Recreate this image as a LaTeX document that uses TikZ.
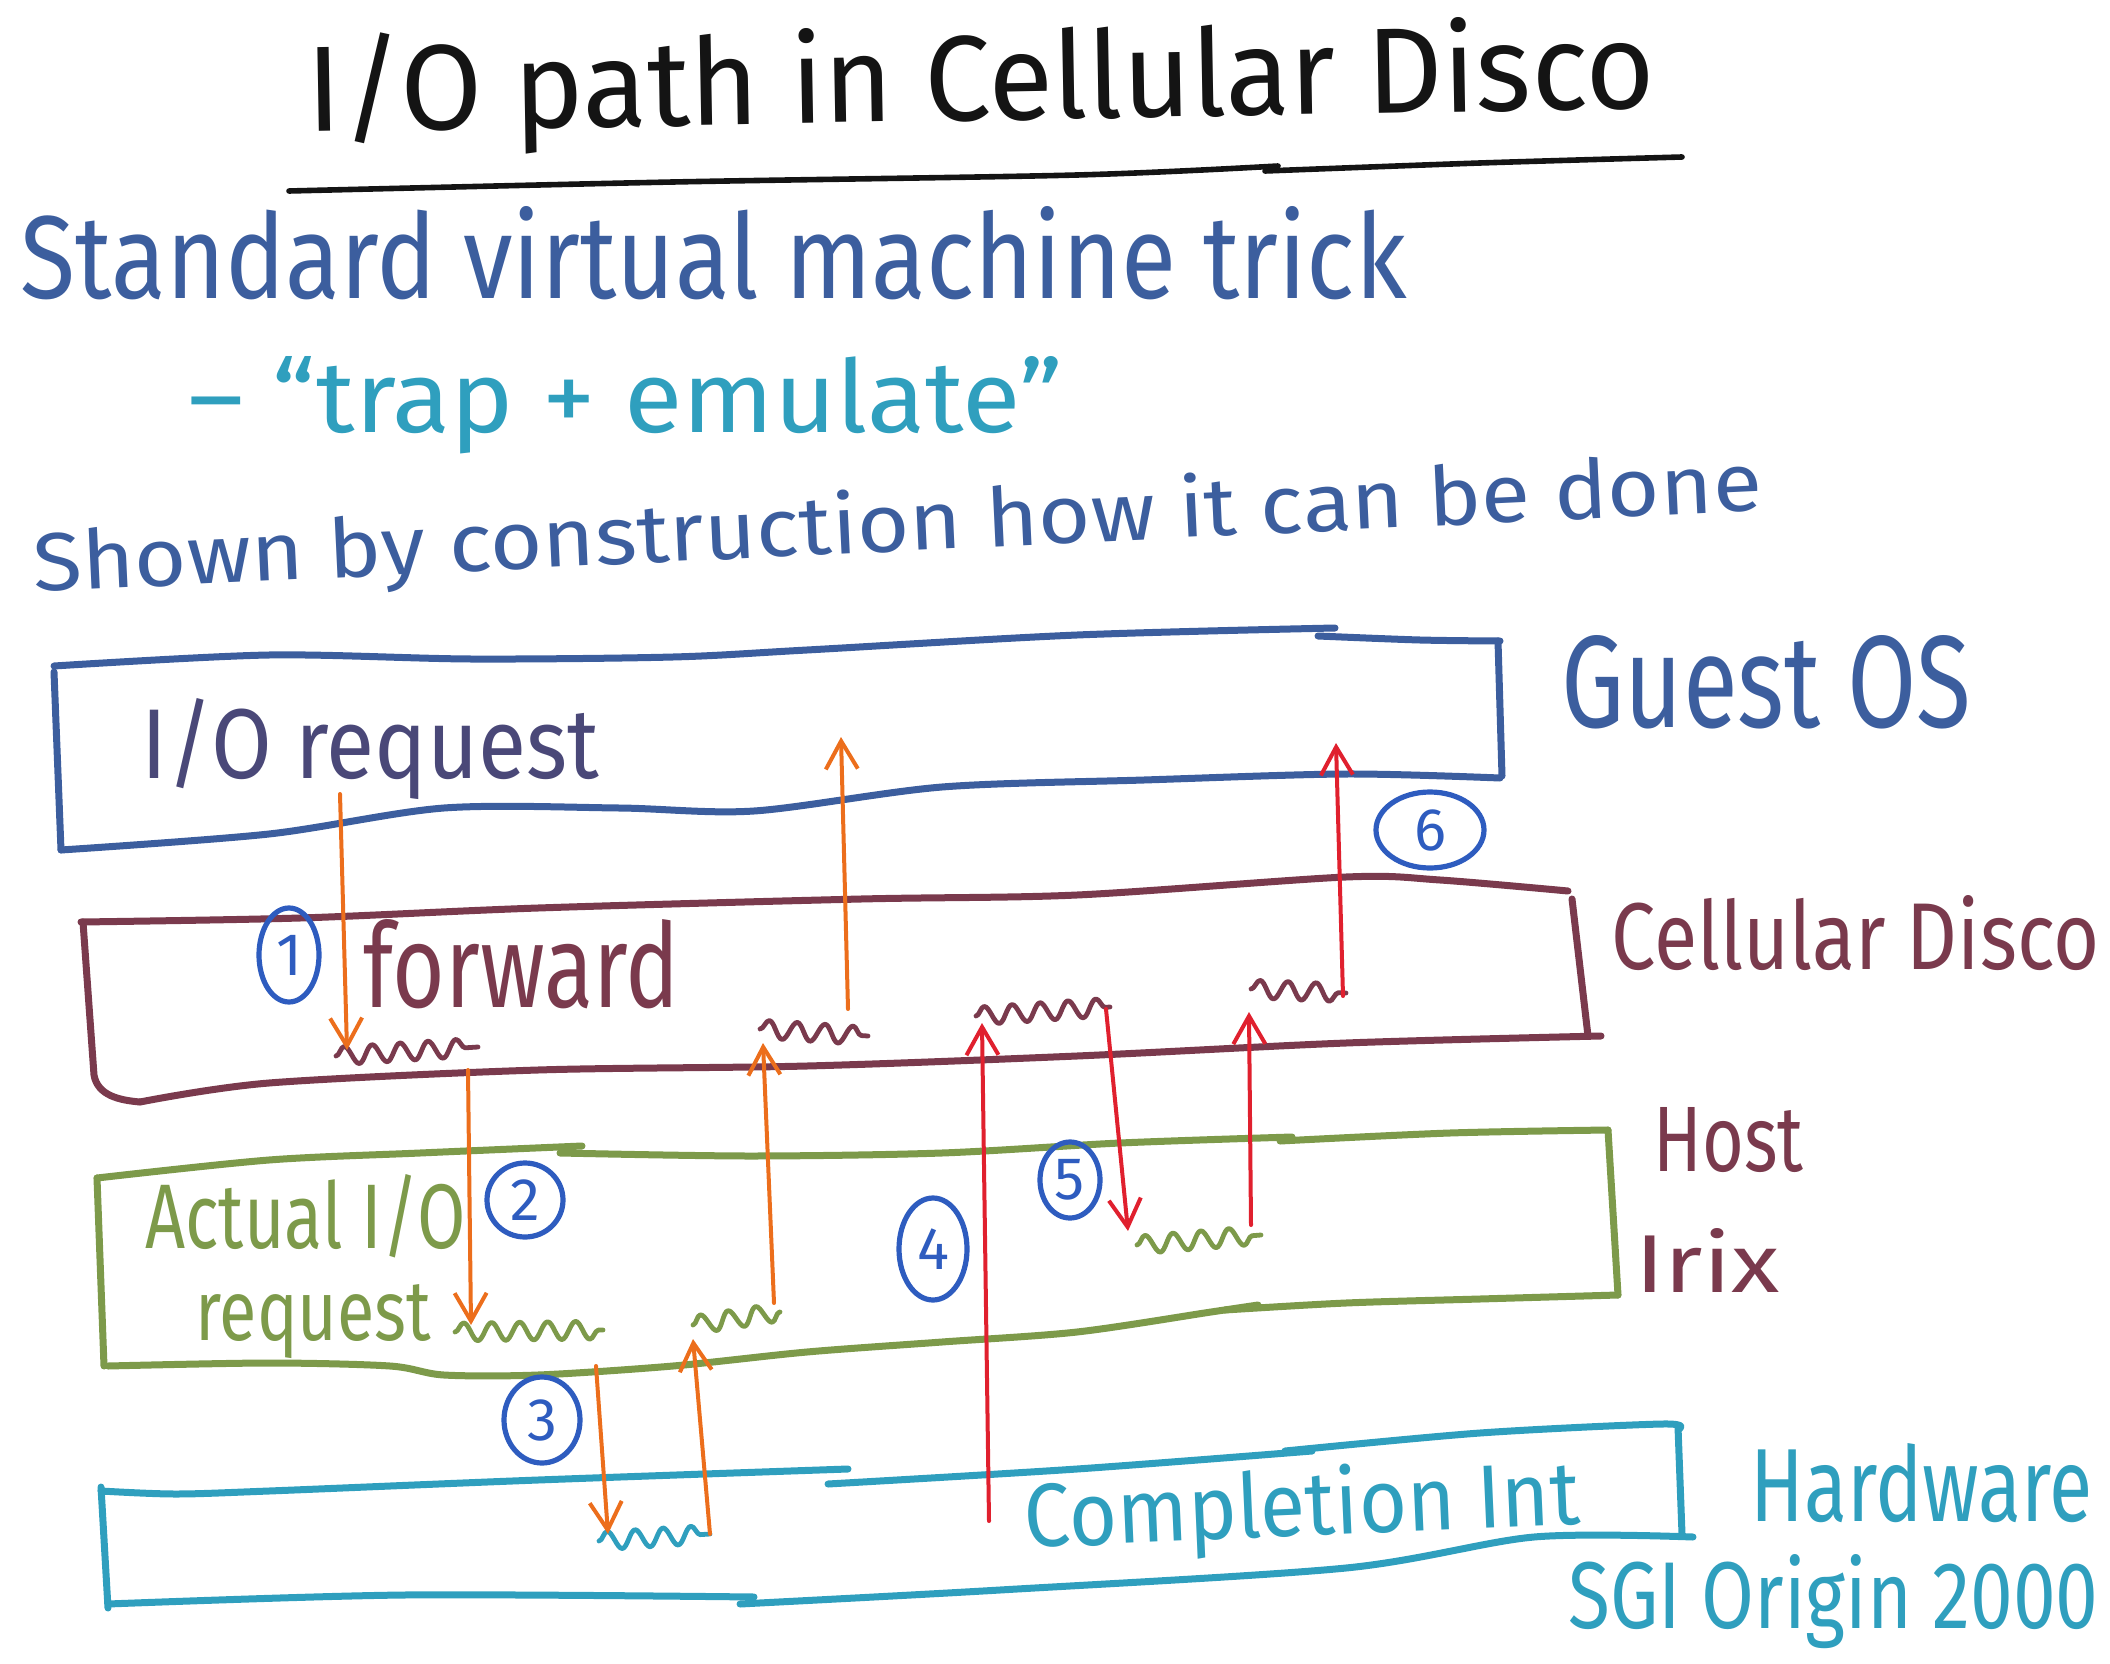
\documentclass[tikz,border=0pt]{standalone}
\usepackage{fontspec}
\setmainfont{Fira Sans}
\usepackage{graphicx}
\usetikzlibrary{arrows.meta,decorations.pathmorphing,shapes.geometric}
\definecolor{ink}{HTML}{141414}
\definecolor{gblue}{HTML}{3C5E9E}
\definecolor{tealc}{HTML}{2F9FBE}
\definecolor{maroon}{HTML}{7A3A4D}
\definecolor{olive}{HTML}{7D9A4A}
\definecolor{orangec}{HTML}{EC6E1C}
\definecolor{redc}{HTML}{E0202E}
\definecolor{numblue}{HTML}{2E5CBF}
\definecolor{iored}{HTML}{4A4878}
\newcommand{\hwtext}[3]{\resizebox{#1}{#2}{#3}}
\begin{document}
\begin{tikzpicture}[x=0.5pt,y=-0.5pt,line cap=round,line join=round,
  lbl/.style={anchor=base west,inner sep=0pt},
  boxline/.style={line width=3.5pt},
  arr/.style={line width=2pt,-{Straight Barb[length=14pt,width=16pt,line width=2pt]}},
  squig/.style={line width=2.4pt,decorate,decoration={snake,amplitude=4.5pt,segment length=14pt}},
  numc/.style={draw=numblue,line width=2.6pt,ellipse,inner sep=0pt,text=numblue,font=\fontsize{30pt}{30pt}\selectfont}]
\useasboundingbox (0,0) rectangle (2110,1664);

% title
\node[lbl,text=ink,rotate=1] (title) at (307,132) {\hwtext{674pt}{49pt}{I/O path in Cellular Disco}};
\draw[ink,line width=2.8pt] plot[smooth] coordinates {(289,191) (673,182) (1077,175) (1278,166)};
\draw[ink,line width=2.8pt] plot[smooth] coordinates {(1265,171) (1480,163) (1682,157)};

% header texts
\node[lbl,text=gblue] (std) at (20,299) {\hwtext{693pt}{46pt}{Standard virtual machine trick}};
\node[lbl,text=tealc] (trap) at (188,432) {\hwtext{437pt}{38pt}{– “trap + emulate”}};
\node[lbl,text=gblue,rotate=2.7] (shown) at (34,592) {\hwtext{865pt}{32pt}{Shown by construction how it can be done}};

% Guest OS box
\draw[gblue,boxline] plot[smooth] coordinates {(54,666) (269,655) (471,659) (673,657) (807,650) (1077,635) (1335,628)};
\draw[gblue,boxline] plot[smooth] coordinates {(1318,636) (1420,640) (1500,641)};
\draw[gblue,boxline] (1498,641) -- (1502,776);
\draw[gblue,boxline] (54,672) -- (61,850);
\draw[gblue,boxline] plot[smooth] coordinates {(61,850) (269,834) (444,808) (619,808) (754,811) (942,787) (1144,780) (1346,774) (1500,778)};
\node[lbl,text=iored] (ioreq) at (141,778) {\hwtext{229pt}{40pt}{I/O request}};
\node[lbl,text=gblue] (guest) at (1561,727) {\hwtext{205pt}{46pt}{Guest OS}};

% Cellular Disco box
\draw[maroon,boxline] plot[smooth] coordinates {(81,922) (300,918) (538,908) (861,899) (1077,895) (1346,877) (1440,880) (1568,891)};
\draw[maroon,boxline] (1572,899) -- (1588,1036);
\draw[maroon,boxline] (83,922) -- (94,1075) to[out=-80,in=175] (140,1102);
\draw[maroon,boxline] plot[smooth] coordinates {(140,1102) (269,1083) (538,1070) (807,1066) (1077,1056) (1346,1043) (1601,1036)};
\node[lbl,text=maroon] (forward) at (363,1007) {\hwtext{158pt}{44pt}{forward}};
\node[lbl,text=maroon] (cdisco) at (1611,969) {\hwtext{244pt}{37pt}{Cellular Disco}};

% Host Irix box
\draw[olive,boxline] plot[smooth] coordinates {(97,1178) (269,1160) (420,1153) (582,1146)};
\draw[olive,boxline] plot[smooth] coordinates {(560,1153) (750,1156) (942,1153) (1120,1143) (1292,1137)};
\draw[olive,boxline] plot[smooth] coordinates {(1280,1141) (1450,1133) (1608,1130)};
\draw[olive,boxline] (1608,1130) -- (1618,1295);
\draw[olive,boxline] (97,1178) -- (104,1366);
\draw[olive,boxline] plot[smooth] coordinates {(108,1366) (269,1363) (390,1366) (444,1375) (538,1375) (673,1366) (807,1352) (942,1342) (1077,1332) (1211,1312) (1258,1305)};
\draw[olive,boxline] plot[smooth] coordinates {(1225,1310) (1346,1303) (1480,1299) (1618,1295)};
\node[lbl,text=olive] (actual) at (145,1248) {\hwtext{160pt}{37pt}{Actual I/O}};
\node[lbl,text=olive] (request) at (195,1340) {\hwtext{118pt}{28pt}{request}};
\node[lbl,text=maroon] (host) at (1653,1171) {\hwtext{75pt}{32pt}{Host}};
\node[lbl,text=maroon] (irix) at (1635,1292) {\hwtext{72pt}{32pt}{Irix}};

% Hardware box
\draw[tealc,boxline] plot[smooth] coordinates {(101,1491) (175,1494) (269,1491) (538,1480) (848,1469)};
\draw[tealc,boxline] plot[smooth] coordinates {(828,1484) (1077,1469) (1312,1451)};
\draw[tealc,boxline] plot[smooth] coordinates {(1285,1451) (1480,1433) (1662,1424) (1679,1429)};
\draw[tealc,boxline] (1678,1427) -- (1682,1534);
\draw[tealc,boxline] (101,1487) -- (108,1608);
\draw[tealc,boxline] plot[smooth] coordinates {(108,1604) (404,1595) (754,1597)};
\draw[tealc,boxline] plot[smooth] coordinates {(740,1604) (1000,1590) (1346,1568) (1534,1537) (1693,1537)};
\node[lbl,text=tealc,rotate=2.5] (compl) at (1025,1548) {\hwtext{278pt}{35pt}{Completion Int}};
\node[lbl,text=tealc] (hw) at (1750,1521) {\hwtext{171pt}{39pt}{Hardware}};
\node[lbl,text=tealc] (sgi) at (1568,1628) {\hwtext{265pt}{37pt}{SGI Origin 2000}};

% step circles
\node[numc,minimum width=30pt,minimum height=47pt] (c1) at (289,955) {1};
\node[numc,minimum width=38pt,minimum height=37pt] (c2) at (525,1200) {2};
\node[numc,minimum width=38pt,minimum height=43pt] (c3) at (542,1420) {3};
\node[numc,minimum width=34pt,minimum height=51pt] (c4) at (933,1249) {4};
\node[numc,minimum width=30pt,minimum height=38pt] (c5) at (1070,1180) {5};
\node[numc,minimum width=54pt,minimum height=38pt] (c6) at (1430,830) {6};

% coordinates
\coordinate (a1s) at (340,794); \coordinate (a1e) at (347,1050);
\coordinate (s1a) at (336,1056); \coordinate (s1b) at (478,1047);
\coordinate (a2s) at (468,1070); \coordinate (a2e) at (471,1325);
\coordinate (s2a) at (455,1332); \coordinate (s2b) at (603,1330);
\coordinate (a3s) at (596,1366); \coordinate (a3e) at (608,1534);
\coordinate (s3a) at (599,1541); \coordinate (s3b) at (710,1534);
\coordinate (a4e) at (693,1339);
\coordinate (s4a) at (693,1325); \coordinate (s4b) at (780,1312);
\coordinate (a5s) at (774,1303); \coordinate (a5e) at (763,1043);
\coordinate (s5a) at (760,1029); \coordinate (s5b) at (868,1036);
\coordinate (a6s) at (848,1009); \coordinate (a6e) at (841,737);
\coordinate (r1s) at (989,1521); \coordinate (r1e) at (982,1023);
\coordinate (s6a) at (976,1016); \coordinate (s6b) at (1110,1007);
\coordinate (r2s) at (1106,1009); \coordinate (r2e) at (1128,1231);
\coordinate (s7a) at (1137,1245); \coordinate (s7b) at (1261,1235);
\coordinate (r3s) at (1251,1225); \coordinate (r3e) at (1249,1012);
\coordinate (s8a) at (1251,989); \coordinate (s8b) at (1346,993);
\coordinate (r4s) at (1343,996); \coordinate (r4e) at (1336,743);

% squiggles
\draw[squig,maroon] (s1a) -- (s1b);
\draw[squig,olive] (s2a) -- (s2b);
\draw[squig,tealc] (s3a) -- (s3b);
\draw[squig,olive] (s4a) -- (s4b);
\draw[squig,maroon] (s5a) -- (s5b);
\draw[squig,maroon] (s6a) -- (s6b);
\draw[squig,olive] (s7a) -- (s7b);
\draw[squig,maroon] (s8a) -- (s8b);

% arrows
\draw[arr,orangec] (a1s) -- (a1e);
\draw[arr,orangec] (a2s) -- (a2e);
\draw[arr,orangec] (a3s) -- (a3e);
\draw[arr,orangec] (s3b) -- (a4e);
\draw[arr,orangec] (a5s) -- (a5e);
\draw[arr,orangec] (a6s) -- (a6e);
\draw[arr,redc] (r1s) -- (r1e);
\draw[arr,redc] (r2s) -- (r2e);
\draw[arr,redc] (r3s) -- (r3e);
\draw[arr,redc] (r4s) -- (r4e);
\end{tikzpicture}
\end{document}
